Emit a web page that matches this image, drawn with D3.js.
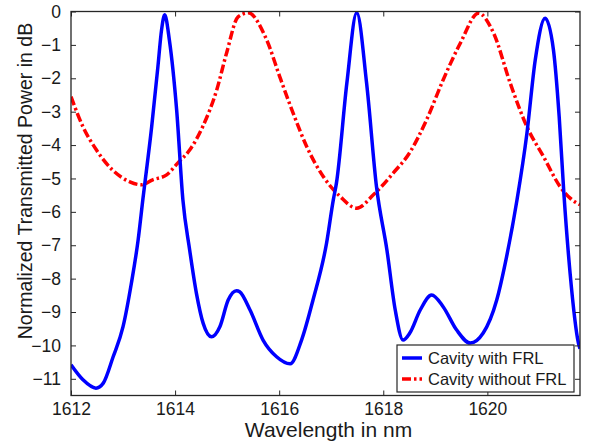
<!DOCTYPE html>
<html>
<head>
<meta charset="utf-8">
<script src="https://cdn.jsdelivr.net/npm/d3@7"></script>
<style>
  body { margin: 0; background: #fff; }
  text { font-family: "Liberation Sans", Arial, sans-serif; fill: #1a1a1a; }
</style>
</head>
<body>
<div id="chart"></div>
<script>
// cavity with FRL (blue)
const withWl = [1612.0, 1612.23, 1612.48, 1612.62, 1612.81, 1613.0, 1613.16, 1613.29, 1613.38, 1613.55,
  1613.67, 1613.74, 1613.8, 1613.89, 1614.03, 1614.15, 1614.28, 1614.41, 1614.54, 1614.7,
  1614.86, 1615.02, 1615.18, 1615.24, 1615.44, 1615.69, 1615.95, 1616.21, 1616.43, 1616.65,
  1616.91, 1617.04, 1617.1, 1617.3, 1617.49, 1617.68, 1617.87, 1618.07, 1618.23, 1618.38,
  1618.51, 1618.71, 1618.93, 1619.15, 1619.41, 1619.67, 1619.92, 1620.18, 1620.37, 1620.57,
  1620.76, 1620.92, 1621.11, 1621.27, 1621.38, 1621.47, 1621.59, 1621.75, 1621.78];
const withDb = [-10.58, -11.03, -11.28, -11.13, -10.34, -9.44, -8.14, -6.84, -5.64, -3.45,
  -1.65, -0.55, -0.1, -0.85, -2.95, -5.64, -7.14, -8.44, -9.34, -9.74,
  -9.44, -8.64, -8.36, -8.39, -8.94, -9.84, -10.34, -10.55, -9.84, -8.64,
  -6.94, -5.64, -5.14, -2.15, -0.04, -2.15, -5.25, -7.14, -8.94, -9.84,
  -9.63, -8.94, -8.49, -8.84, -9.54, -9.93, -9.63, -8.64, -7.34, -5.64,
  -3.65, -1.45, -0.2, -1.15, -3.15, -5.44, -7.84, -9.93, -10.1];

// cavity without FRL (red)
const withoutWl = [1612.0, 1612.23, 1612.49, 1612.8, 1613.13, 1613.35, 1613.57, 1613.83, 1614.05, 1614.28,
  1614.53, 1614.8, 1614.99, 1615.21, 1615.4, 1615.76, 1616.01, 1616.27, 1616.53, 1616.85,
  1617.17, 1617.49, 1617.81, 1618.19, 1618.51, 1618.83, 1619.15, 1619.48, 1619.83, 1620.12,
  1620.44, 1620.76, 1621.08, 1621.4, 1621.59, 1621.78];
const withoutDb = [-2.55, -3.45, -4.15, -4.75, -5.1, -5.19, -5.04, -4.9, -4.54, -4.15,
  -3.45, -2.35, -1.24, -0.16, -0.04, -0.85, -1.95, -3.05, -4.05, -4.95,
  -5.54, -5.89, -5.49, -4.84, -4.22, -3.25, -2.05, -0.95, -0.05, -0.65,
  -2.15, -3.45, -4.35, -5.25, -5.59, -5.79];

const xTicks = [1612, 1614, 1616, 1618, 1620];
const yTicks = [0, -1, -2, -3, -4, -5, -6, -7, -8, -9, -10, -11];
const seriesNames = ["Cavity with FRL", "Cavity without FRL"];

const W = 590, H = 446;
const margin = {top: 11.5, right: 10, bottom: 50.5, left: 71};
const iw = W - margin.left - margin.right;
const ih = H - margin.top - margin.bottom;

const svg = d3.select("#chart").append("svg")
  .attr("width", W).attr("height", H);

const x = d3.scaleLinear().domain([1612, 1621.78]).range([0, iw]);
const y = d3.scaleLinear().domain([-11.5, 0]).range([ih, 0]);

const g = svg.append("g").attr("transform", `translate(${margin.left},${margin.top})`);

g.append("clipPath").attr("id", "clip")
  .append("rect").attr("width", iw).attr("height", ih);

const line = d3.line()
  .x(d => x(d[0])).y(d => y(d[1]))
  .curve(d3.curveMonotoneX);

const blue = withWl.map((w, i) => [w, withDb[i]]);
const red = withoutWl.map((w, i) => [w, withoutDb[i]]);

const plot = g.append("g").attr("clip-path", "url(#clip)");
plot.append("path").datum(red)
  .attr("d", line).attr("fill", "none")
  .attr("stroke", "#ff0000").attr("stroke-width", 3.5)
  .attr("stroke-dasharray", "9,3,2.5,3");
plot.append("path").datum(blue)
  .attr("d", line).attr("fill", "none")
  .attr("stroke", "#0000ff").attr("stroke-width", 3.5)
  .attr("stroke-linejoin", "round");

// axes, matlab style: ticks inside, box all around
const axisColor = "#262626";
function styleAxis(sel) {
  sel.select(".domain").remove();
  sel.selectAll(".tick line").attr("stroke", axisColor).attr("stroke-width", 1);
  sel.selectAll("text").style("font-size", "17.5px").attr("fill", "#1a1a1a");
}

g.append("g").attr("transform", `translate(0,${ih})`)
  .call(d3.axisBottom(x).tickValues(xTicks).tickSize(-5).tickPadding(7).tickFormat(d3.format("d")))
  .call(styleAxis);
g.append("g")
  .call(d3.axisTop(x).tickValues(xTicks).tickSize(-5).tickFormat(""))
  .call(styleAxis);
g.append("g")
  .call(d3.axisLeft(y).tickValues(yTicks).tickSize(-5).tickPadding(10).tickFormat(d3.format("d")))
  .call(styleAxis);
g.append("g").attr("transform", `translate(${iw},0)`)
  .call(d3.axisRight(y).tickValues(yTicks).tickSize(-5).tickFormat(""))
  .call(styleAxis);

g.append("rect").attr("width", iw).attr("height", ih)
  .attr("fill", "none").attr("stroke", axisColor).attr("stroke-width", 1.3);

// axis labels
svg.append("text")
  .attr("x", margin.left + iw / 2 + 3).attr("y", 437)
  .attr("text-anchor", "middle")
  .style("font-size", "21px")
  .text("Wavelength in nm");
svg.append("text")
  .attr("transform", "translate(32,181) rotate(-90)")
  .attr("text-anchor", "middle")
  .style("font-size", "19.5px")
  .text("Normalized Transmitted Power in dB");

// legend
const lg = svg.append("g").attr("transform", "translate(397,345)");
lg.append("rect").attr("width", 177).attr("height", 47)
  .attr("fill", "#fff").attr("stroke", axisColor).attr("stroke-width", 1.2);
const rows = [
  {name: seriesNames[0], color: "#0000ff", dash: null},
  {name: seriesNames[1], color: "#ff0000", dash: "9,3,2.5,3"}
];
rows.forEach((r, i) => {
  const cy = 13 + i * 21;
  lg.append("line").attr("x1", 5).attr("x2", 25).attr("y1", cy).attr("y2", cy)
    .attr("stroke", r.color).attr("stroke-width", 3.5)
    .attr("stroke-dasharray", r.dash);
  lg.append("text").attr("x", 31).attr("y", cy).attr("dy", "0.36em")
    .style("font-size", "16.5px").text(r.name);
});
</script>
</body>
</html>
